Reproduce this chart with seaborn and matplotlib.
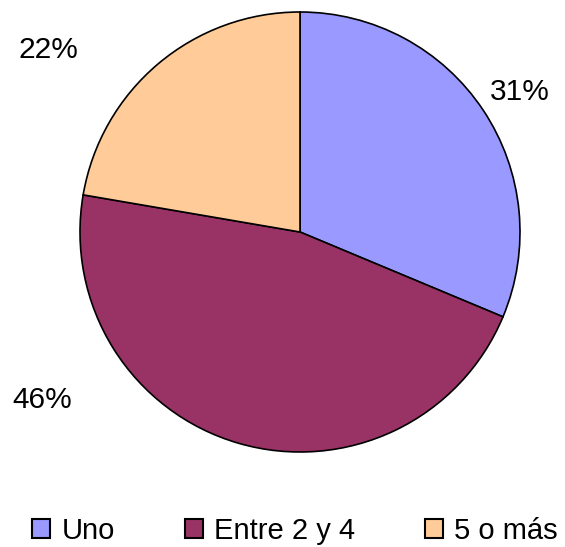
import matplotlib
matplotlib.use('Agg')
import matplotlib.pyplot as plt
import seaborn as sns
from matplotlib.patches import Patch

categories = ['Uno', 'Entre 2 y 4', '5 o más']
values = [31.3, 46.4, 22.3]
colors = ['#9999FF', '#993366', '#FFCC99']

# label positions (data units, pie radius = 1)
label_pos = [(1.0, 0.636), (-1.173, -0.764), (-1.145, 0.827)]

sns.set_theme(style='white')
plt.rcParams['font.family'] = ['Liberation Sans', 'DejaVu Sans']
plt.rcParams['text.color'] = 'black'

fig = plt.figure(figsize=(5.65, 5.47), dpi=100)
ax = fig.add_axes([0, 0, 1, 1])

wedges, texts, autotexts = ax.pie(values, colors=sns.color_palette(colors), startangle=90,
                                  counterclock=False, autopct='%1.0f%%',
                                  wedgeprops=dict(edgecolor='black', linewidth=1.2))
for t, (x, y) in zip(autotexts, label_pos):
    t.set_position((x, y))
    t.set_fontsize(21.5)
    t.set_color('black')

ax.set_xlim(-300 / 220, 265 / 220)
ax.set_ylim(-315 / 220, 232 / 220)
ax.axis('off')

handles = [Patch(facecolor=c, edgecolor='black', linewidth=1.5) for c in colors]
fig.legend(handles, categories, loc='center', bbox_to_anchor=(0.522, 0.03), ncol=3,
           frameon=False, fontsize=21, handlelength=0.62, handleheight=0.62,
           handletextpad=0.38, columnspacing=2.4, labelcolor='black')

fig.savefig('out.png', dpi=100)
